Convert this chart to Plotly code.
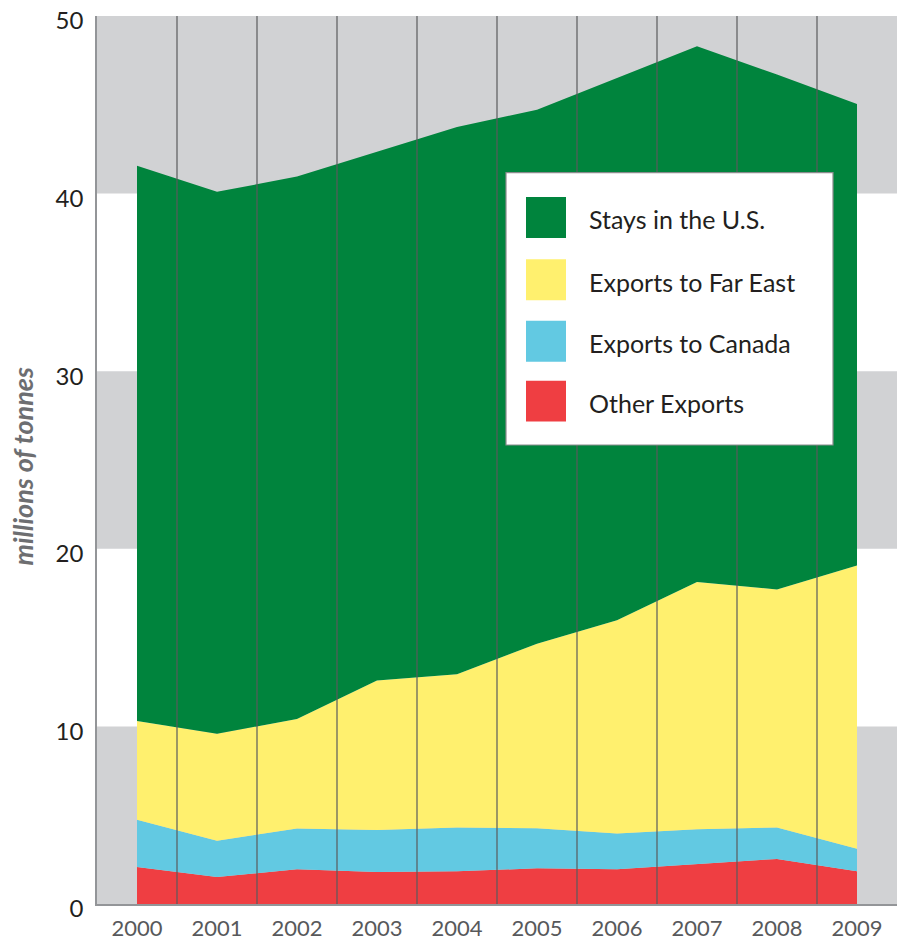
import plotly.graph_objects as go

# ---- data (millions of tonnes) ----
years = [2000, 2001, 2002, 2003, 2004, 2005, 2006, 2007, 2008, 2009]
other_exports = [2.08, 1.52, 1.95, 1.80, 1.84, 2.01, 1.95, 2.25, 2.54, 1.85]
exports_canada = [2.66, 2.04, 2.30, 2.36, 2.47, 2.26, 2.02, 1.96, 1.77, 1.26]
exports_far_east = [5.56, 6.03, 6.16, 8.42, 8.63, 10.39, 12.00, 13.92, 13.40, 15.95]
stays_us = [31.27, 30.51, 30.55, 29.77, 30.81, 30.06, 30.55, 30.17, 28.99, 25.98]

series_names = ["Other Exports", "Exports to Canada", "Exports to Far East", "Stays in the U.S."]
series_values = [other_exports, exports_canada, exports_far_east, stays_us]
series_colors = ["#ef3e42", "#62c9e2", "#fff06e", "#00843d"]

y_ticks = [0, 10, 20, 30, 40, 50]
gray_bands = [(0, 10), (20, 30), (40, 50)]

FONT = "Lato"
fig = go.Figure()

for name, vals, col in zip(series_names, series_values, series_colors):
    fig.add_trace(go.Scatter(
        x=years, y=vals, name=name, mode="lines",
        stackgroup="one", line=dict(width=0, color=col),
        fillcolor=col, hoverinfo="x+y+name",
    ))

shapes = []
# background bands
for lo, hi in gray_bands:
    shapes.append(dict(type="rect", xref="paper", yref="y", x0=0, x1=1, y0=lo, y1=hi,
                       fillcolor="#d1d2d4", line=dict(width=0), layer="below"))
# vertical separators between years
for yr in years[:-1]:
    shapes.append(dict(type="line", xref="x", yref="paper", x0=yr + 0.5, x1=yr + 0.5,
                       y0=0, y1=1, line=dict(color="#5a5b5d", width=1.2), layer="above"))

# custom legend box
lx0, lx1, ly0, ly1 = 0.51125, 0.92, 0.5169, 0.8236
shapes.append(dict(type="rect", xref="paper", yref="paper", x0=lx0, x1=lx1, y0=ly0, y1=ly1,
                   fillcolor="white", line=dict(color="#8a8b8d", width=1.2), layer="above"))

annotations = []
row_centers = [0.7730, 0.7030, 0.6337, 0.5663]  # top to bottom
legend_order = list(reversed(range(len(series_names))))
sw_w = 40 / 800
sw_h = 41 / 890
for rc, idx in zip(row_centers, legend_order):
    shapes.append(dict(type="rect", xref="paper", yref="paper",
                       x0=0.53625, x1=0.53625 + sw_w, y0=rc - sw_h / 2, y1=rc + sw_h / 2,
                       fillcolor=series_colors[idx], line=dict(width=0), layer="above"))
    annotations.append(dict(xref="paper", yref="paper", x=0.6125, y=rc - 0.002,
                            text=series_names[idx], showarrow=False, xanchor="left",
                            yanchor="middle", font=dict(family=FONT, size=25, color="#231f20")))

# y axis title
annotations.append(dict(xref="paper", yref="paper", x=-0.0935, y=0.493,
                        text="<b><i>millions of tonnes</i></b>", showarrow=False,
                        textangle=-90, xanchor="center", yanchor="middle",
                        font=dict(family=FONT, size=27, color="#6d6e71")))

fig.update_layout(
    width=897, height=941,
    margin=dict(l=97, r=0, t=16, b=35),
    plot_bgcolor="white", paper_bgcolor="white",
    showlegend=False,
    shapes=shapes, annotations=annotations,
    xaxis=dict(range=[1999.5, 2009.5], tickvals=years, ticktext=[str(y) for y in years],
               showgrid=False, zeroline=False, showline=True, linecolor="#939598", linewidth=1.5,
               ticks="", tickfont=dict(family=FONT, size=22, color="#58595b"),
               ticklabelstandoff=4),
    yaxis=dict(range=[0, 50], tickvals=y_ticks, showgrid=False, zeroline=False,
               showline=True, linecolor="#939598", linewidth=1.5, ticks="",
               tickfont=dict(family=FONT, size=24, color="#231f20"),
               ticklabelstandoff=7, ticklabelshift=5),
)

fig.write_html(
    "out.html",
    config={"displayModeBar": False},
    post_script="document.body.style.margin='0';document.body.style.padding='0';"
                "document.body.style.overflow='hidden';",
)
